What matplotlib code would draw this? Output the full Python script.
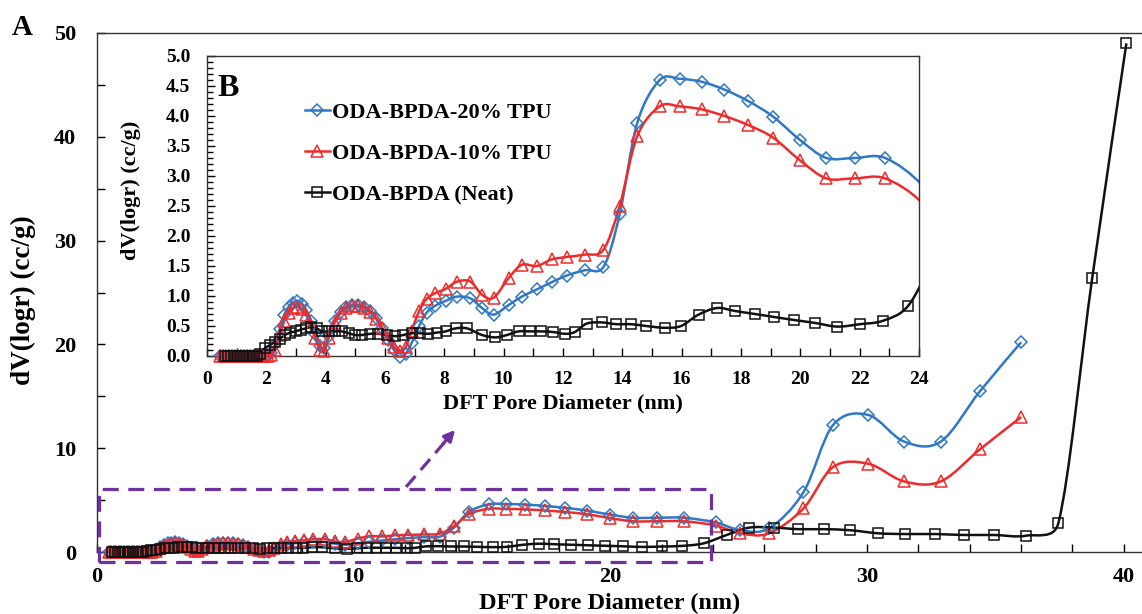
import numpy as np
import matplotlib
matplotlib.use('Agg')
import matplotlib.pyplot as plt
from matplotlib.path import Path
from matplotlib.patches import PathPatch, Rectangle
from matplotlib.lines import Line2D
from matplotlib.ticker import MultipleLocator, FormatStrFormatter

plt.rcParams['font.family'] = ['Liberation Serif', 'DejaVu Serif']
plt.rcParams['font.weight'] = 'bold'
plt.rcParams['axes.labelweight'] = 'bold'

# ---------------- data ----------------
x_tpu = [0.45, 0.55, 0.65, 0.75, 0.85, 0.95, 1.05, 1.15, 1.25, 1.35, 1.45, 1.55, 1.65, 1.75,
         1.85, 1.95, 2.05, 2.15, 2.3, 2.45, 2.6, 2.75, 2.9, 3.05, 3.2, 3.35, 3.5, 3.65, 3.8,
         3.95, 4.1, 4.3, 4.5, 4.7, 4.9, 5.1, 5.3, 5.5, 5.7, 5.9, 6.1, 6.3, 6.5, 6.7, 6.9, 7.15,
         7.4, 7.7, 8.05, 8.43, 8.88, 9.27, 9.66, 10.17, 10.61, 11.12, 11.62, 12.12, 12.74,
         13.36, 13.91, 14.5, 15.26, 15.93, 16.68, 17.44, 18.24, 19.08, 19.99, 20.88, 21.83,
         22.86, 24.1, 25.05, 26.18, 27.52, 28.68, 30.05, 31.44, 32.87, 34.4, 36.0]
y_tpu20 = [0, 0, 0, 0, 0, 0, 0, 0, 0, 0, 0, 0, 0, 0,
           0, 0, 0.01, 0.05, 0.2, 0.45, 0.68, 0.82, 0.89, 0.92, 0.87, 0.76, 0.58, 0.36, 0.16,
           0.14, 0.33, 0.58, 0.74, 0.82, 0.85, 0.85, 0.82, 0.75, 0.63, 0.46, 0.27, 0.1, -0.02, 0.04, 0.22, 0.5,
           0.72, 0.84, 0.92, 0.99, 0.96, 0.80, 0.69, 0.85, 0.99, 1.11, 1.23, 1.34, 1.43,
           1.48, 2.36, 3.88, 4.60, 4.62, 4.57, 4.44, 4.25, 3.99, 3.60, 3.30, 3.30,
           3.30, 2.85, 2.12, 2.28, 5.76, 12.25, 13.2, 10.64, 10.64, 15.5, 20.2]
y_tpu10 = [0, 0, 0, 0, 0, 0, 0, 0, 0, 0, 0, 0, 0, 0,
           0, 0, 0, 0.02, 0.1, 0.35, 0.58, 0.72, 0.8, 0.82, 0.78, 0.68, 0.5, 0.3, 0.1,
           0.08, 0.3, 0.55, 0.72, 0.8, 0.83, 0.83, 0.8, 0.73, 0.62, 0.47, 0.3, 0.15, 0.08, 0.15, 0.42, 0.75,
           0.95, 1.05, 1.12, 1.24, 1.24, 1.02, 0.97, 1.30, 1.52, 1.50, 1.61, 1.65, 1.69,
           1.77, 2.50, 3.66, 4.16, 4.16, 4.11, 4.0, 3.85, 3.64, 3.26, 2.96, 2.96,
           2.96, 2.55, 1.8, 1.8, 4.2, 8.2, 8.5, 6.8, 6.8, 9.9, 13.0]
x_neat = [0.6, 0.7, 0.8, 0.9, 1.0, 1.1, 1.2, 1.3, 1.4, 1.5, 1.6, 1.7, 1.8, 1.95, 2.12, 2.29,
          2.46, 2.63, 2.8, 2.99, 3.16, 3.33, 3.51, 3.7, 3.87, 4.1, 4.32, 4.55, 4.77, 5.0, 5.22,
          5.5, 5.78, 6.06, 6.34, 6.62, 6.9, 7.18, 7.46, 7.74, 8.04, 8.38, 8.77, 9.27, 9.72,
          10.11, 10.5, 10.88, 11.27, 11.66, 12.07, 12.4, 12.8, 13.3, 13.8, 14.3, 14.8, 15.43,
          15.98, 16.57, 17.2, 17.8, 18.47, 19.12, 19.79, 20.51, 21.24, 22.0, 22.8, 23.64,
          24.53, 25.41, 26.37, 27.32, 28.32, 29.33, 30.44, 31.48, 32.65, 33.77, 34.94, 36.19,
          37.45, 38.77, 40.1]
y_neat = [0, 0, 0, 0, 0, 0, 0, 0, 0, 0, 0, 0, 0.03, 0.13, 0.18, 0.24,
          0.29, 0.35, 0.39, 0.41, 0.44, 0.46, 0.48, 0.46, 0.41, 0.41, 0.41, 0.41, 0.38, 0.35, 0.35,
          0.37, 0.37, 0.35, 0.33, 0.35, 0.38, 0.38, 0.37, 0.39, 0.41, 0.46, 0.46, 0.35, 0.31,
          0.35, 0.41, 0.41, 0.41, 0.40, 0.37, 0.40, 0.54, 0.56, 0.53, 0.53, 0.50, 0.47,
          0.50, 0.69, 0.80, 0.75, 0.70, 0.65, 0.60, 0.55, 0.49, 0.53, 0.59, 0.84,
          1.64, 2.35, 2.35, 2.2, 2.2, 2.1, 1.8, 1.73, 1.73, 1.64, 1.64, 1.57,
          2.77, 26.4, 49.0]

labels = ['ODA-BPDA-20% TPU', 'ODA-BPDA-10% TPU', 'ODA-BPDA (Neat)']
series = [(x_tpu, y_tpu20), (x_tpu, y_tpu10), (x_neat, y_neat)]
colors = ['#2F78C4', '#EE2B2B', '#111111']
markers = ['D', '^', 's']
msizes = [6.6, 8.8, 7.6]
purple = '#7030A0'

W, H = 1142, 614
fig = plt.figure(figsize=(W / 100, H / 100), dpi=100)
fig.patch.set_facecolor('white')

ax = fig.add_axes([97 / W, 1 - 552 / H, 41 * 25.67 / W, 519 / H])
ax.set_xlim(0, 41)
ax.set_ylim(0, 50)
axi = fig.add_axes([207 / W, 1 - 356 / H, 712 / W, 300 / H])
axi.set_xlim(0, 24)
axi.set_ylim(0, 5.0)
axi.set_zorder(5)
axi.set_facecolor('white')


def smooth_path(a, xs, ys):
    pts = a.transData.transform(np.column_stack([xs, ys]))
    n = len(pts)
    verts = [pts[0]]
    codes = [Path.MOVETO]
    for i in range(n - 1):
        p0 = pts[max(i - 1, 0)]
        p1 = pts[i]
        p2 = pts[i + 1]
        p3 = pts[min(i + 2, n - 1)]
        seg = np.hypot(*(p2 - p1))
        a1 = (p2 - p0) / 6.0
        a2 = (p3 - p1) / 6.0
        for arm in (a1, a2):
            L = np.hypot(*arm)
            if L > seg / 2 and L > 0:
                arm *= seg / 2 / L
        verts += [p1 + a1, p2 - a2, p2]
        codes += [Path.CURVE4] * 3
    verts = a.transData.inverted().transform(np.array(verts))
    return Path(verts, codes)


for a, is_inset in ((ax, False), (axi, True)):
    for (xs, ys), c, m, ms in zip(series, colors, markers, msizes):
        a.add_patch(PathPatch(smooth_path(a, xs, ys), fill=False, edgecolor=c,
                              lw=1.8, zorder=2))
        xs_a = np.array(xs)
        ys_a = np.array(ys)
        if is_inset:
            keep = xs_a <= 24
            a.plot(xs_a[keep], ys_a[keep], ls='none', marker=m, ms=ms, mfc='none',
                   mec=c, mew=1.1, zorder=3, clip_on=False)
        else:
            a.plot(xs_a, ys_a, ls='none', marker=m, ms=ms, mfc='none', mec=c,
                   mew=1.1, zorder=3, clip_on=False)

# ---- main axes styling ----
ax.spines['right'].set_visible(False)
for s in ax.spines.values():
    s.set_linewidth(1.0)
    s.set_color('#333333')
ax.xaxis.set_major_locator(MultipleLocator(10))
ax.xaxis.set_minor_locator(MultipleLocator(2))
ax.yaxis.set_major_locator(MultipleLocator(10))
ax.yaxis.set_minor_locator(MultipleLocator(5))
ax.tick_params(which='both', direction='in', top=False, right=False, width=1.0)
ax.tick_params(which='major', length=6, labelsize=16)
ax.tick_params(axis='x', which='major', pad=11)
ax.tick_params(axis='y', which='major', pad=15)
ax.tick_params(which='minor', length=6)
ax.set_xlabel('DFT Pore Diameter (nm)', fontsize=17.5, va='center')
ax.xaxis.set_label_coords((610 - 97) / 1052.5, (552 - 603) / 519)
ax.set_ylabel('dV(logr) (cc/g)', fontsize=19.5, va='center')
ax.yaxis.set_label_coords((23 - 97) / 1052.5, (552 - 300) / 519)

# dashed zoom box and arrow
ax.add_patch(Rectangle((0.08, -0.94), 23.82, 7.01, fill=False, ec=purple, lw=2.3,
                       ls=(0, (5, 3)), clip_on=False, zorder=4))
ax.plot([12.04, 13.55], [6.27, 10.6], color=purple, lw=2.3, ls=(0, (4.5, 2.5)), zorder=4)
ax.annotate('', xy=(14.02, 11.96), xytext=(13.4, 10.2),
            arrowprops=dict(arrowstyle='-|>', color=purple, lw=2.3, mutation_scale=16),
            zorder=4)

# ---- inset styling ----
for s in axi.spines.values():
    s.set_linewidth(1.0)
    s.set_color('#333333')
axi.xaxis.set_major_locator(MultipleLocator(2))
axi.xaxis.set_minor_locator(MultipleLocator(1))
axi.yaxis.set_major_locator(MultipleLocator(0.5))
axi.yaxis.set_minor_locator(MultipleLocator(0.1))
axi.yaxis.set_major_formatter(FormatStrFormatter('%.1f'))
axi.tick_params(which='both', direction='in', top=False, right=False, width=1.0)
axi.tick_params(which='major', length=6, labelsize=14)
axi.tick_params(axis='x', which='major', pad=11)
axi.tick_params(axis='y', which='major', pad=12)
axi.tick_params(which='minor', length=4)
axi.tick_params(axis='x', which='minor', length=6)
axi.set_xlabel('DFT Pore Diameter (nm)', fontsize=16, va='center')
axi.xaxis.set_label_coords(0.5, (356 - 403) / 300)
axi.set_ylabel('dV(logr) (cc/g)', fontsize=16, va='center')
axi.yaxis.set_label_coords((131 - 207) / 712, (356 - 190) / 300)

handles = [Line2D([], [], color=c, lw=1.8, marker=m, ms=ms, mfc='none', mec=c, mew=1.1)
           for c, m, ms in zip(colors, markers, msizes)]
axi.legend(handles, labels, loc='upper left', bbox_to_anchor=(0.137, 0.845),
           frameon=False, fontsize=16, handlelength=1.15, handletextpad=0.1,
           labelspacing=0.92, borderaxespad=0, borderpad=0, numpoints=1)

axi.text(0.015, 0.94, 'B', transform=axi.transAxes, fontsize=23, fontweight='bold',
         ha='left', va='top')
fig.text(12 / W, 1 - 14 / H, 'A', fontsize=21, fontweight='bold', ha='left', va='top')

fig.savefig('out.png', dpi=100, facecolor='white')
